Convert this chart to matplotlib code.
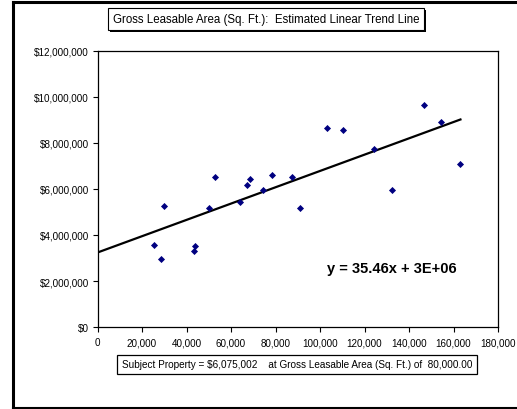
import matplotlib
matplotlib.use("Agg")
import matplotlib.pyplot as plt
import matplotlib.patheffects as pe
import numpy as np
from matplotlib.lines import Line2D
from matplotlib.ticker import FuncFormatter

plt.rcParams["font.family"] = ["Liberation Sans", "DejaVu Sans"]

# comparables : surface locative brute (pi²) vs valeur
gla_sqft = [25560, 28440, 30060, 43560, 43875, 50310, 52875, 64260, 67140, 68760,
            74340, 78525, 87525, 90810, 102960, 110475, 124425, 132210, 146610,
            154440, 163125]
value_usd = [3550000, 2940000, 5260000, 3290000, 3520000, 5170000, 6530000, 5430000,
             6170000, 6420000, 5940000, 6610000, 6530000, 5170000, 8640000, 8570000,
             7730000, 5940000, 9650000, 8930000, 7070000]

trend_slope = 35.46
trend_intercept = 3238202
subject_gla = 80000.00
subject_value = 6075002

x_ticks = list(range(0, 180001, 20000))
y_ticks = list(range(0, 12000001, 2000000))

fig = plt.figure(figsize=(5.17, 4.10), dpi=100)
ax = fig.add_axes([97.5 / 517, 1 - 328 / 410, (498 - 97.5) / 517, (328 - 52) / 410])

ax.scatter(gla_sqft, value_usd, marker="D", s=13, color="#000080", zorder=3, linewidths=0)
xs = np.array([0, max(gla_sqft)])
ax.plot(xs, trend_slope * xs + trend_intercept, color="black", lw=1.6, zorder=2)

ax.set_xlim(0, 180000)
ax.set_ylim(0, 12000000)
ax.set_xticks(x_ticks)
ax.set_yticks(y_ticks)
ax.xaxis.set_major_formatter(FuncFormatter(lambda v, _: f"{v:,.0f}"))
ax.yaxis.set_major_formatter(FuncFormatter(lambda v, _: f"${v:,.0f}"))
ax.tick_params(direction="out", length=3.5, width=0.8, labelsize=7.1, pad=2.5,
               colors="black")
ax.tick_params(axis="x", pad=4)
for s in ax.spines.values():
    s.set_linewidth(0.9)

ax.text(327 / 517, 1 - 269 / 410, f"y = {trend_slope}x + 3E+06", transform=fig.transFigure,
        fontsize=10.5, fontweight="bold", ha="left", va="center")

t = fig.text(266 / 517, 1 - 20 / 410,
             "Gross Leasable Area (Sq. Ft.):  Estimated Linear Trend Line",
             fontsize=8.3, ha="center", va="center",
             bbox=dict(boxstyle="square,pad=0.4", fc="white", ec="black", lw=0.8))
t.get_bbox_patch().set_path_effects(
    [pe.SimplePatchShadow(offset=(1.5, -1.5), shadow_rgbFace="black", alpha=1), pe.Normal()])

fig.text(297 / 517, 1 - 365 / 410,
         f"Subject Property = ${subject_value:,}    at Gross Leasable Area (Sq. Ft.) of  {subject_gla:,.2f}",
         fontsize=7.2, ha="center", va="center",
         bbox=dict(boxstyle="square,pad=0.45", fc="white", ec="black", lw=0.9))

# cadre extérieur (coupé à droite)
fig.add_artist(Line2D([13 / 517, 13 / 517], [1 - 3 / 410, 1 - 409 / 410], color="black",
                      lw=2.2, transform=fig.transFigure))
fig.add_artist(Line2D([13 / 517, 1], [1 - 3 / 410, 1 - 3 / 410], color="black",
                      lw=2.2, transform=fig.transFigure))
fig.add_artist(Line2D([13 / 517, 1], [1 - 409 / 410, 1 - 409 / 410], color="black",
                      lw=1.5, transform=fig.transFigure))

fig.savefig("out.png", dpi=100)
